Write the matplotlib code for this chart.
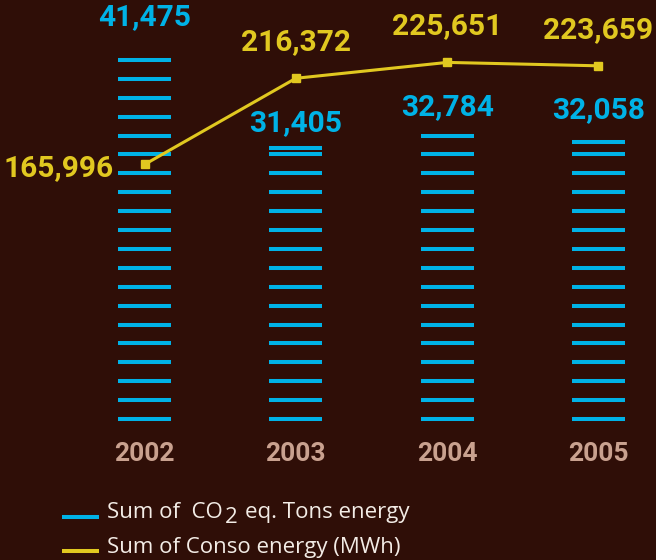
import numpy as np
import matplotlib.pyplot as plt
from matplotlib.lines import Line2D

# yearly totals
years = ['2002', '2003', '2004', '2005']
co2_tons = [41475, 31405, 32784, 32058]
conso_mwh = [165996, 216372, 225651, 223659]

BG = '#2f0e07'
CYAN = '#00b2e6'
YELLOW = '#e1c820'
TAN = '#c9a18f'
TXT = '#f3ece6'

plt.rcParams['font.family'] = ['Roboto', 'DejaVu Sans']

W, H = 656, 560
fig = plt.figure(figsize=(W / 100, H / 100), dpi=100, facecolor=BG)
ax = fig.add_axes([0, 137.5 / H, 1, 422.5 / H])
ax.set_facecolor(BG)

x = np.arange(len(years))
ax.set_xlim(-0.955, 3.38)
ax.set_ylim(0, 48340)

# bars are drawn as stacks of horizontal stripes, capped by a line at the value
half = 0.175
step = 2162
first = 400
for xi, v in zip(x, co2_tons):
    ys = np.append(np.arange(first, v, step), v)
    ax.hlines(ys, xi - half, xi + half, color=CYAN, lw=2.9, capstyle='butt')

bar_lbl_off = [31, 18, 21, 23]
for xi, v, off in zip(x, co2_tons, bar_lbl_off):
    ax.annotate(f'{v:,}', (xi, v), xytext=(0, off), textcoords='offset points',
                ha='center', va='center', color=CYAN, fontsize=21.5, fontweight='bold')

ax.set_xticks(x, years)
ax.tick_params(axis='x', length=0, pad=14, colors=TAN, labelsize=19)
for lbl in ax.get_xticklabels():
    lbl.set_fontweight('bold')
ax.set_yticks([])
for s in ax.spines.values():
    s.set_visible(False)

# consumption line on its own scale
ax2 = ax.twinx()
ax2.set_ylim(15230, 262118)
ax2.plot(x, conso_mwh, color=YELLOW, lw=2.2, marker='s', ms=5.8, zorder=3)
ax2.set_yticks([])
for s in ax2.spines.values():
    s.set_visible(False)

for i, (xi, v) in enumerate(zip(x, conso_mwh)):
    if i == 0:
        ax2.annotate(f'{v:,}', (xi, v), xytext=(-22, -2.5), textcoords='offset points',
                     ha='right', va='center', color=YELLOW, fontsize=21.5, fontweight='bold')
    else:
        ax2.annotate(f'{v:,}', (xi, v), xytext=(0, 26), textcoords='offset points',
                     ha='center', va='center', color=YELLOW, fontsize=21.5, fontweight='bold')

# legend
for yy, col in [(516.7, CYAN), (551, YELLOW)]:
    fig.add_artist(Line2D([62 / W, 99 / W], [1 - yy / H] * 2, transform=fig.transFigure,
                          color=col, lw=2.9, solid_capstyle='butt'))

lg_font = dict(color=TXT, fontsize=16, family=['Open Sans', 'DejaVu Sans'])
t1 = fig.text(107 / W, 1 - 518 / H, 'Sum of  CO', va='baseline', **lg_font)
t2 = ax.annotate('2', xy=(1, 1 - 523 / H), xycoords=(t1, 'figure fraction'),
                 xytext=(1.5, 0), textcoords='offset points',
                 va='baseline', annotation_clip=False, **lg_font)
ax.annotate('eq. Tons energy', xy=(1, 1 - 518 / H), xycoords=(t2, 'figure fraction'),
            xytext=(5, 0), textcoords='offset points',
            va='baseline', annotation_clip=False, **lg_font)
fig.text(107 / W, 1 - 553 / H, 'Sum of Conso energy (MWh)', va='baseline', **lg_font)

fig.savefig('out.png', dpi=100, facecolor=BG)
